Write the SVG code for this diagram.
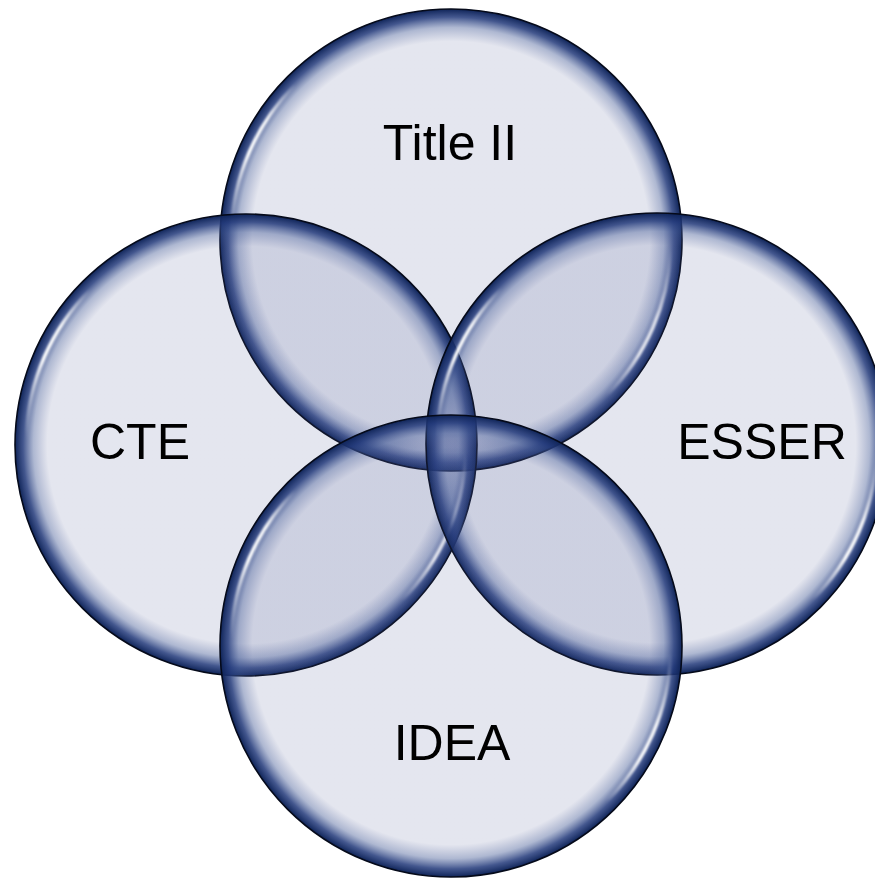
<svg xmlns="http://www.w3.org/2000/svg" xmlns:xlink="http://www.w3.org/1999/xlink" width="875" height="879" viewBox="0 0 875 879">
  <defs>
    <!-- translucent bubble fill: pale centre, dark navy inner rim -->
    <radialGradient id="bubble" cx="0.5" cy="0.5" r="0.5">
      <stop offset="0" stop-color="#4b5894" stop-opacity="0.15"/>
      <stop offset="0.86" stop-color="#4b5894" stop-opacity="0.15"/>
      <stop offset="0.92" stop-color="#3f5693" stop-opacity="0.42"/>
      <stop offset="0.965" stop-color="#22397a" stop-opacity="0.85"/>
      <stop offset="1" stop-color="#0f2458" stop-opacity="1"/>
    </radialGradient>
    <!-- gloss streak fading at both ends -->
    <linearGradient id="glossFade" x1="0" y1="1" x2="1" y2="0">
      <stop offset="0" stop-color="#ffffff" stop-opacity="0"/>
      <stop offset="0.4" stop-color="#ffffff" stop-opacity="1"/>
      <stop offset="0.65" stop-color="#ffffff" stop-opacity="0.95"/>
      <stop offset="1" stop-color="#ffffff" stop-opacity="0"/>
    </linearGradient>
    <filter id="soft" x="-20%" y="-20%" width="140%" height="140%">
      <feGaussianBlur stdDeviation="0.8"/>
    </filter>
    <!-- two glossy arcs just inside the rim, at upper-left and lower-right -->
    <g id="gloss" fill="none" stroke="url(#glossFade)" stroke-width="3.5" stroke-linecap="round" filter="url(#soft)">
      <path d="M -219.87 -7.68 A 220 220 0 0 1 -155.56 -155.56"/>
      <path d="M 219.87 7.68 A 220 220 0 0 1 155.56 155.56"/>
    </g>
    <style>
      .bubble { fill: url(#bubble); stroke: #050a1a; stroke-width: 1.6; }
      .label { font-family: "Liberation Sans", Arial, sans-serif; font-size: 50px; fill: #000000; text-anchor: middle; }
    </style>
  </defs>

  <g id="title-ii">
    <circle class="bubble" cx="451" cy="240" r="231"/>
    <use xlink:href="#gloss" href="#gloss" x="451" y="240"/>
  </g>
  <g id="cte">
    <circle class="bubble" cx="246" cy="445" r="231"/>
    <use xlink:href="#gloss" href="#gloss" x="246" y="445"/>
  </g>
  <g id="esser">
    <circle class="bubble" cx="657" cy="444" r="231"/>
    <use xlink:href="#gloss" href="#gloss" x="657" y="444"/>
  </g>
  <g id="idea">
    <circle class="bubble" cx="451" cy="646" r="231"/>
    <use xlink:href="#gloss" href="#gloss" x="451" y="646"/>
  </g>

  <g id="labels">
    <text class="label" x="450" y="160">Title II</text>
    <text class="label" x="140" y="459">CTE</text>
    <text class="label" x="762" y="459">ESSER</text>
    <text class="label" x="452" y="760">IDEA</text>
  </g>
</svg>
